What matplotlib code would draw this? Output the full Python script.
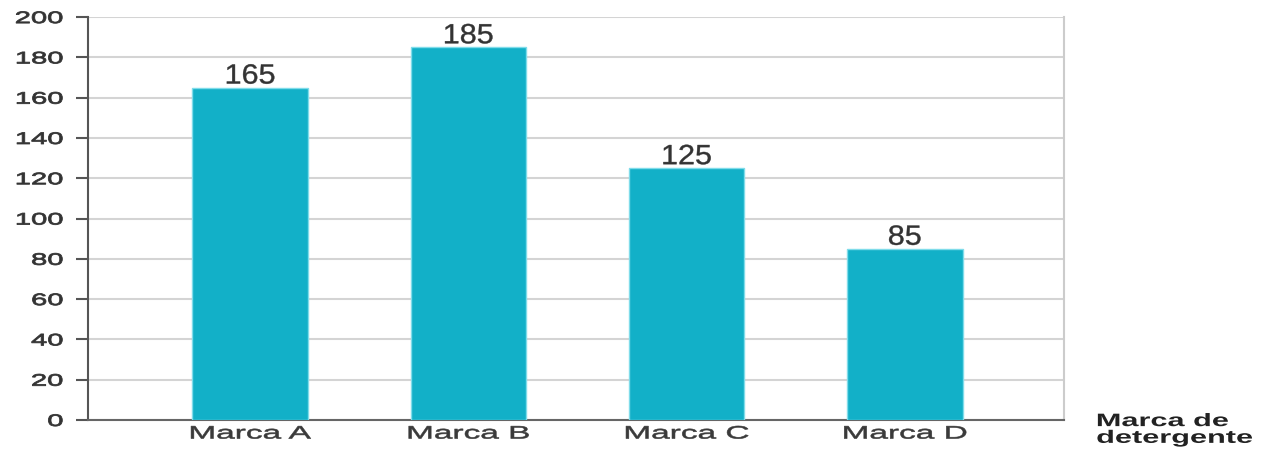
import matplotlib
matplotlib.use("Agg")
import matplotlib.pyplot as plt
from matplotlib import patheffects
from matplotlib.transforms import Affine2D

# data
marcas = ['Marca A', 'Marca B', 'Marca C', 'Marca D']
valores = [165, 185, 125, 85]
y_ticks = [0, 20, 40, 60, 80, 100, 120, 140, 160, 180, 200]

plt.rcParams['font.family'] = ['Liberation Sans', 'DejaVu Sans']


# the reference uses a wide (extended) typeface: stretch the glyphs sideways
class Stretch(patheffects.AbstractPathEffect):
    def __init__(self, sx, anchor='center', lw=0.0):
        super().__init__()
        self.sx = sx
        self.anchor = anchor
        self.lw = lw

    def draw_path(self, renderer, gc, tpath, affine, rgbFace=None):
        ext = tpath.get_extents()
        if self.anchor == 'center':
            cx = (ext.x0 + ext.x1) / 2
        elif self.anchor == 'right':
            cx = ext.x1
        else:
            cx = ext.x0
        pre = Affine2D().translate(-cx, 0).scale(self.sx, 1).translate(cx, 0)
        gc0 = renderer.new_gc()
        gc0.copy_properties(gc)
        if self.lw and rgbFace is not None:
            gc0.set_linewidth(self.lw)
            gc0.set_foreground(rgbFace)
        renderer.draw_path(gc0, tpath, pre + affine, rgbFace)
        gc0.restore()


fig = plt.figure(figsize=(12.62, 4.5), dpi=100)
ax = fig.add_axes([0.0697, 0.0667, 0.7735, 0.8953])

x = range(len(marcas))
bars = ax.bar(x, valores, width=0.53, color='#12B0C8', edgecolor='#7fdcea',
              linewidth=1, zorder=3)

for b, v in zip(bars, valores):
    ax.text(b.get_x() + b.get_width() / 2, v + 2, str(v), ha='center',
            va='baseline', fontsize=20, color='#333333', zorder=4,
            path_effects=[Stretch(1.1, lw=0.3)])

ax.set_xlim(-0.743, 3.73)
ax.set_ylim(0, 200)
ax.set_yticks(y_ticks)
ax.set_yticklabels([str(t) for t in y_ticks], fontsize=12, color='#333333')
ax.set_xticks(list(x))
ax.set_xticklabels(marcas, fontsize=13, color='#3a3a3a')
ax.tick_params(axis='x', length=0, pad=4)
ax.tick_params(axis='y', length=9, width=1.5, color='#555555', pad=9)
for lab in ax.get_yticklabels():
    lab.set_path_effects([Stretch(1.75, 'right', lw=0.6)])
for lab in ax.get_xticklabels():
    lab.set_path_effects([Stretch(1.85, lw=0.4)])

ax.grid(axis='y', color='#d4d4d4', linewidth=1.5, zorder=0)
ax.spines['left'].set_color('#555555')
ax.spines['left'].set_linewidth(1.5)
ax.spines['bottom'].set_color('#666666')
ax.spines['bottom'].set_linewidth(1.5)
ax.spines['right'].set_color('#cccccc')
ax.spines['right'].set_linewidth(1.5)
ax.spines['top'].set_visible(False)

fig.text(0.869, 0.007, 'Marca de\ndetergente', fontsize=13, fontweight='bold',
         color='#222222', ha='left', va='bottom', linespacing=0.98,
         path_effects=[Stretch(1.7, 'left')])

fig.savefig('out.png', dpi=100)
